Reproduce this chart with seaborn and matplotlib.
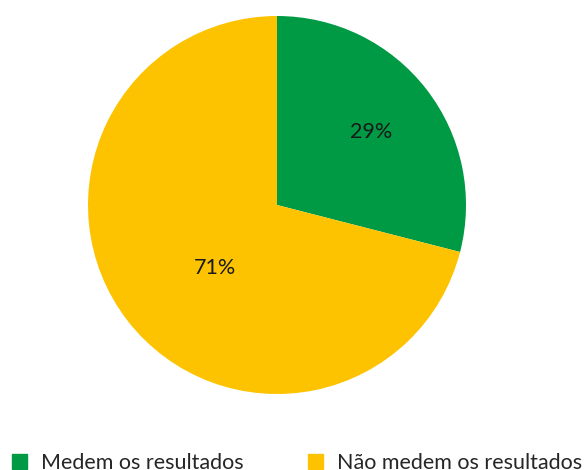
import numpy as np
import matplotlib
matplotlib.use('Agg')
import matplotlib.pyplot as plt
import matplotlib.patches as mpatches
import seaborn as sns

# dados
categorias = ['Medem os resultados', 'Não medem os resultados']
valores = [29, 71]
cores = ['#009A44', '#FDC300']
dist_rotulo = [0.63, 0.468]
desvio_rotulo = [0, 7.5]  # graus

sns.set_theme(style='white')
plt.rcParams['font.family'] = ['Lato', 'DejaVu Sans']

fig = plt.figure(figsize=(5.84, 4.70), dpi=100)
# eixo quadrado do tamanho do círculo
ax = fig.add_axes([88 / 584, 76 / 470, 378 / 584, 378 / 470])

wedges, _ = ax.pie(valores, colors=cores, startangle=90, counterclock=False,
                   radius=1, wedgeprops=dict(linewidth=0))
for w, v, d, s in zip(wedges, valores, dist_rotulo, desvio_rotulo):
    ang = np.deg2rad((w.theta1 + w.theta2) / 2 + s)
    ax.text(d * np.cos(ang), d * np.sin(ang), f'{v}%', ha='center', va='center',
            fontsize=15.5, color='#1a1a1a')
ax.set_xlim(-1, 1)
ax.set_ylim(-1, 1)
ax.set_aspect('equal')
ax.axis('off')

handles = [mpatches.Patch(color=c, label=l) for c, l in zip(cores, categorias)]
fig.legend(handles=handles, loc='center left', bbox_to_anchor=(0.0205, 0.015),
           ncol=2, frameon=False, fontsize=15.5, handlelength=0.7, handleheight=0.7,
           handletextpad=0.65, columnspacing=3.0, borderaxespad=0, borderpad=0)

fig.savefig('out.png', dpi=100)
